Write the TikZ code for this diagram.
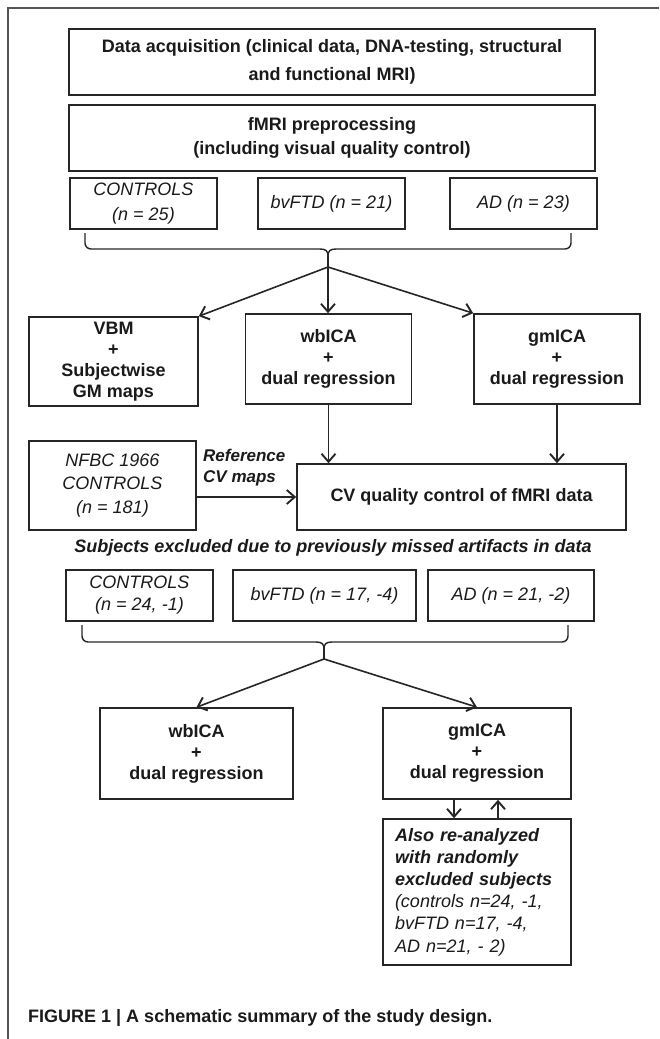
\documentclass[tikz,border=0pt]{standalone}
\usepackage{fontspec}
\setmainfont{Liberation Sans}
\usetikzlibrary{arrows.meta}
\definecolor{boxc}{HTML}{262626}
\definecolor{framec}{HTML}{555555}
\definecolor{txtc}{HTML}{1A1A1A}
\begin{document}
\begin{tikzpicture}[x=1pt,y=-1pt,
  box/.style={draw=boxc, line width=1.6pt, inner sep=0pt, align=center, text=txtc,
    font=\fontsize{18}{21}\selectfont\bfseries},
  ibox/.style={box, font=\fontsize{18}{23}\selectfont\itshape},
  conn/.style={draw=boxc, line width=1.6pt},
  arr/.style={conn, -{Straight Barb[length=8pt,width=14pt,line width=1.9pt]}},
  brace/.style={conn, line width=1.4pt}
]
\useasboundingbox (0,0) rectangle (659,1039);
% partial frame
\draw[framec, line width=1.2pt] (8,1039) -- (8,8) -- (659,8);

% top boxes
\node[box, minimum width=526pt, minimum height=66pt, font=\fontsize{18}{28}\selectfont\bfseries] (b1) at (332,62)
  {Data acquisition (clinical data, DNA-testing, structural\\and functional MRI)};
\node[box, minimum width=526pt, minimum height=66pt, font=\fontsize{18}{24}\selectfont\bfseries] (b2) at (332,138)
  {fMRI preprocessing\\(including visual quality control)};

% groups row 1
\node[ibox, minimum width=147pt, minimum height=51pt, font=\fontsize{18}{25}\selectfont\itshape] (c1) at (143.5,203.5) {CONTROLS\\(n = 25)};
\node[ibox, minimum width=147pt, minimum height=51pt] (c2) at (331.5,203.5) {bvFTD (n = 21)};
\node[ibox, minimum width=147pt, minimum height=51pt] (c3) at (523.5,203.5) {AD (n = 23)};

% brace 1
\coordinate (t1) at (328,256);
\coordinate (f1) at (328,267);
\draw[brace, rounded corners=6pt] (85,233) -- (85,249) -- (320,249);
\draw[brace] (320,249) .. controls (326,249) and (328,251) .. (t1);
\draw[brace, rounded corners=6pt] (571,233) -- (571,249) -- (336,249);
\draw[brace] (336,249) .. controls (330,249) and (328,251) .. (t1);
\draw[conn] (t1) -- (f1);

% analysis boxes
\node[box, minimum width=169pt, minimum height=89pt] (vbm) at (113.5,361.5) {VBM\\+\\Subjectwise\\GM maps};
\node[box, minimum width=166pt, minimum height=90pt] (wb) at (328.5,359) {wbICA\\+\\dual regression};
\node[box, minimum width=166pt, minimum height=90pt] (gm) at (557,359) {gmICA\\+\\dual regression};

\draw[arr] (f1) -- (vbm.north east);
\draw[arr] (f1) -- (f1 |- wb.north);
\draw[arr] (f1) -- (gm.north west);

% CV box
\node[box, minimum width=329pt, minimum height=66pt] (cv) at (461.5,497) {CV quality control of fMRI data};
\node[ibox, minimum width=167pt, minimum height=89pt, font=\fontsize{18}{23.5}\selectfont\itshape] (nf) at (112.5,485.5) {NFBC 1966\\CONTROLS\\(n = 181)};
\node[anchor=west, align=left, inner sep=0pt, text=txtc, font=\fontsize{17}{21}\selectfont\bfseries\itshape]
  (ref) at (203,468) {Reference\\CV maps};

\draw[arr] (wb.south) -- (wb.south |- cv.north);
\draw[arr] (gm.south) -- (gm.south |- cv.north);
\draw[arr] (nf.east |- cv.west) -- (cv.west);

\node[inner sep=0pt, text=txtc, font=\fontsize{18}{22}\selectfont\bfseries\itshape] (subj) at (333,548)
  {Subjects excluded due to previously missed artifacts in data};

% groups row 2
\node[ibox, minimum width=147pt, minimum height=51pt, font=\fontsize{18}{22}\selectfont\itshape] (d1) at (139.5,595.5) {CONTROLS\\(n = 24, -1)};
\node[ibox, minimum width=183pt, minimum height=51pt] (d2) at (324.5,595.5) {bvFTD (n = 17, -4)};
\node[ibox, minimum width=166pt, minimum height=51pt] (d3) at (511,595.5) {AD (n = 21, -2)};

% brace 2
\coordinate (t2) at (324,649);
\coordinate (f2) at (324,659);
\draw[brace, rounded corners=6pt] (82,625) -- (82,642) -- (316,642);
\draw[brace] (316,642) .. controls (322,642) and (324,644) .. (t2);
\draw[brace, rounded corners=6pt] (568,625) -- (568,642) -- (332,642);
\draw[brace] (332,642) .. controls (326,642) and (324,644) .. (t2);
\draw[conn] (t2) -- (f2);

\node[box, minimum width=193pt, minimum height=91pt] (wb2) at (196.5,753.5) {wbICA\\+\\dual regression};
\node[box, minimum width=188pt, minimum height=91pt] (gm2) at (477,753.5) {gmICA\\+\\dual regression};

\draw[arr] (f2) -- (wb2.north);
\draw[arr] (f2) -- (gm2.north);

\node[box, minimum width=188pt, minimum height=146pt, text width=164pt, align=left,
  font=\fontsize{18}{22.2}\selectfont] (also) at (477,892)
  {\textbf{\textit{Also re-analyzed}}\\\textbf{\textit{with randomly}}\\\textbf{\textit{excluded subjects}}\\\textit{(controls n=24, -1,}\\\textit{bvFTD n=17, -4,}\\\textit{AD n=21, - 2)}};

\draw[arr] ([xshift=-23pt]gm2.south) -- ([xshift=-23pt]also.north);
\draw[arr] ([xshift=21pt]also.north) -- ([xshift=21pt]gm2.south);

% caption
\node[anchor=west, inner sep=0pt, text=txtc, font=\fontsize{18}{22}\selectfont\bfseries] (cap) at (28,1018)
  {FIGURE 1 | A schematic summary of the study design.};
\end{tikzpicture}
\end{document}
